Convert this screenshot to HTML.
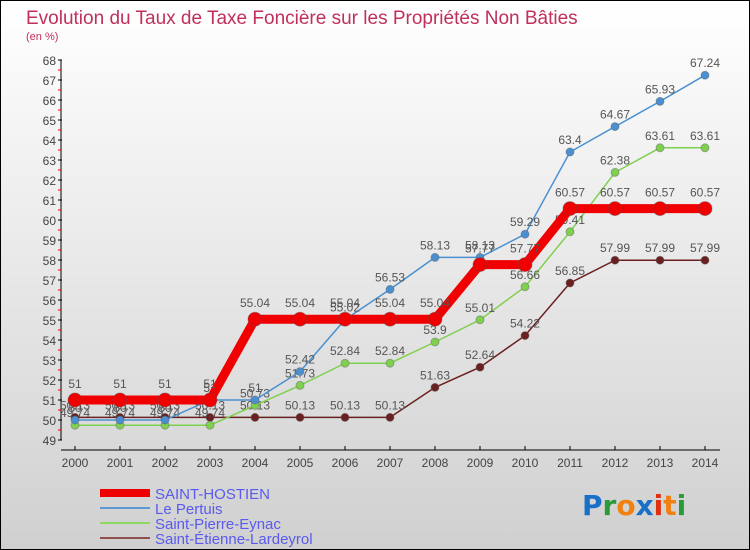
<!DOCTYPE html>
<html><head><meta charset="utf-8"><style>
body{margin:0;width:750px;height:550px;overflow:hidden;font-family:"Liberation Sans",sans-serif}
#c{position:absolute;left:0;top:0;width:748px;height:548px;border:1px solid #000;background:linear-gradient(#fff,#d0d0d0)}
</style></head><body>
<div id="c">
<svg id="s" width="750" height="550" style="position:absolute;left:-1px;top:-1px" font-family="Liberation Sans, sans-serif">
<text x="26" y="24" font-size="19" fill="#c0305a">Evolution du Taux de Taxe Foncière sur les Propriétés Non Bâties</text>
<text x="26" y="40" font-size="11" fill="#c0305a">(en %)</text>
<g id="ax"></g><g id="pl"></g>
<g>
<line x1="100" y1="493" x2="150" y2="493" stroke="#e00" stroke-width="8"/><text x="155" y="499" font-size="15" fill="#5a5aee">SAINT-HOSTIEN</text>
<line x1="100" y1="508" x2="150" y2="508" stroke="#5a9ad0" stroke-width="2"/><text x="155" y="514" font-size="15" fill="#5a5aee">Le Pertuis</text>
<line x1="100" y1="523" x2="150" y2="523" stroke="#8cd860" stroke-width="2"/><text x="155" y="529" font-size="15" fill="#5a5aee">Saint-Pierre-Eynac</text>
<line x1="100" y1="538" x2="150" y2="538" stroke="#905050" stroke-width="2"/><text x="155" y="544" font-size="15" fill="#5a5aee">Saint-Étienne-Lardeyrol</text>
</g>
<text x="582" y="515" font-size="28" font-family="DejaVu Sans, sans-serif" font-weight="bold"><tspan fill="#1a70c8">P</tspan><tspan fill="#2a9a3a">r</tspan><tspan fill="#f08010">o</tspan><tspan fill="#1a70c8">x</tspan><tspan fill="#e03010">i</tspan><tspan fill="#f08010">t</tspan><tspan fill="#2a9a3a">i</tspan></text>
</svg></div>
<script>
const years=[2000,2001,2002,2003,2004,2005,2006,2007,2008,2009,2010,2011,2012,2013,2014];
const sh=[51,51,51,51,55.04,55.04,55.04,55.04,55.04,57.77,57.77,60.57,60.57,60.57,60.57];
const lp=[50,50,50,51,51,52.42,55.02,56.53,58.13,58.13,59.29,63.4,64.67,65.93,67.24];
const spe=[49.74,49.74,49.74,49.74,50.73,51.73,52.84,52.84,53.9,55.01,56.66,59.41,62.38,63.61,63.61];
const sel=[50.13,50.13,50.13,50.13,50.13,50.13,50.13,50.13,51.63,52.64,54.22,56.85,57.99,57.99,57.99];
const yTicks=[49,50,51,52,53,54,55,56,57,58,59,60,61,62,63,64,65,66,67,68];
const NS="http://www.w3.org/2000/svg";
const X=i=>75+i*45, Y=v=>440-(v-49)*20;
function mk(t,a,p){const e=document.createElementNS(NS,t);for(const k in a)e.setAttribute(k,a[k]);p.appendChild(e);return e;}
const ax=document.getElementById('ax'),pl=document.getElementById('pl');
const ya=mk('line',{x1:61,y1:60,x2:61,y2:440,stroke:'#000'},ax);


yTicks.forEach(v=>{mk('line',{x1:58,y1:Y(v),x2:62,y2:Y(v),stroke:'#000'},ax);
 if(v<68)mk('line',{x1:58,y1:Y(v+0.5),x2:61,y2:Y(v+0.5),stroke:'#e00'},ax);
 const t=mk('text',{x:56,y:Y(v)+5,'font-size':12,fill:'#444','text-anchor':'end'},ax);t.textContent=v;
 
 });
const xa=mk('line',{x1:61,y1:450,x2:720,y2:450,stroke:'#000'},ax);


years.forEach((y,i)=>{mk('line',{x1:X(i),y1:446,x2:X(i),y2:450,stroke:'#000'},ax);
 const t=mk('text',{x:X(i),y:467,'font-size':12,fill:'#444','text-anchor':'middle'},ax);t.textContent=y;
 
 });
function series(d,col,w,r,name,dy){
 const p=mk('polyline',{points:d.map((v,i)=>X(i)+','+Y(v)).join(' '),fill:'none',stroke:col,'stroke-width':w},pl);
 
 
 d.forEach((v,i)=>{const c=mk('circle',{cx:X(i),cy:Y(v),r:r,fill:col,stroke:'#555','stroke-opacity':0.4},pl);
 
 
 const t=mk('text',{x:X(i),y:Y(v)+dy,'font-size':12,fill:'#555','text-anchor':'middle'},pl);t.textContent=v;
 
 });
}
series(sel,'#6a2020',1.5,4,'saint-etienne-lardeyrol',-8);
series(spe,'#80d050',1.5,4,'saint-pierre-eynac',-8);
series(lp,'#4a90d0',1.5,4,'le-pertuis',-8);
series(sh,'#f00000',9,7,'saint-hostien',-12);
</script>
</body></html>
